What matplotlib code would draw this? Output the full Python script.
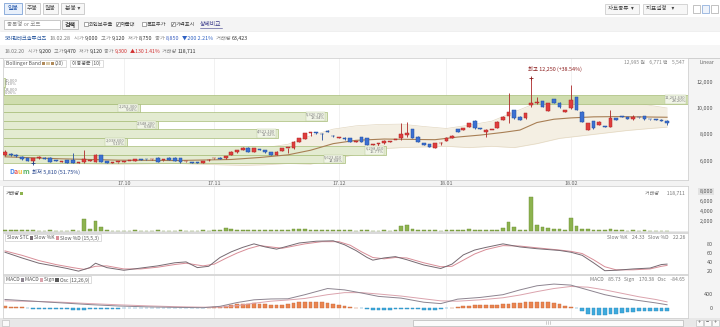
import numpy as np
import matplotlib
matplotlib.use("Agg")
import matplotlib.pyplot as plt
from matplotlib.patches import Rectangle
from matplotlib.ticker import FuncFormatter
from matplotlib.transforms import blended_transform_factory

plt.rcParams['font.family'] = ['Noto Sans CJK KR', 'DejaVu Sans']

W, H = 720, 327

# ---- daily candles 17.09.01 ~ 18.02.28 ----
opens = [6440, 6490, 6460, 6310, 6210, 6010, 6230, 6210, 6240, 6060,
         5920, 6060, 6060, 5850, 5930, 6000, 5930, 6440, 5950, 5860,
         5900, 5930, 5980, 5970, 6070, 6140, 6100, 6240, 6050, 6240,
         6230, 6180, 5950, 5900, 5910, 5830, 6030, 6180, 6240, 6190,
         6440, 6640, 6820, 6990, 6690, 6830, 6820, 6640, 6440, 6750,
         6950, 6950, 7450, 7650, 8100, 8120, 8050, 8230, 7900, 7720,
         7750, 7700, 7450, 7780, 7700, 7230, 7300, 7330, 7440, 7570,
         7700, 7950, 8390, 7830, 7330, 7250, 7000, 7320, 7500, 7750,
         8400, 8330, 8580, 9040, 8480, 8180, 8330, 8500, 9090, 9400,
         9850, 9340, 9220, 10230, 10380, 10530, 9800, 10660, 10400, 9720,
         9980, 10810, 9720, 8330, 9020, 8710, 8600, 8580, 9220, 9340,
         9300, 9200, 9300, 9400, 9150, 9150, 9120, 9000]
highs = [6820, 6560, 6500, 6340, 6240, 6250, 6330, 6260, 6270, 6090,
         6000, 6090, 6590, 5900, 6820, 6060, 6500, 6470, 5990, 5900,
         5930, 5960, 6010, 6150, 6100, 6170, 6130, 6260, 6090, 6270,
         6260, 6200, 5990, 5930, 5940, 5990, 6100, 6230, 6280, 6400,
         6720, 6850, 7020, 7050, 6980, 6880, 6850, 6670, 6720, 6980,
         6990, 7480, 7730, 8110, 8200, 8180, 8090, 8300, 7950, 7800,
         7790, 7730, 7500, 7810, 7730, 7290, 7360, 7550, 7480, 7600,
         8840, 8960, 8420, 7860, 7360, 7280, 7360, 7450, 7780, 7930,
         8430, 8510, 8880, 9070, 8520, 8400, 8370, 8990, 9370, 11140,
         9880, 9370, 9630, 12250, 10860, 10560, 10380, 10690, 10430, 9880,
         11740, 10840, 9750, 8870, 9050, 8990, 8630, 9850, 9250, 9370,
         9330, 9470, 9330, 9430, 9180, 9180, 9150, 9120]
lows = [6360, 6380, 6320, 6080, 5970, 5810, 6170, 6100, 5910, 5950,
        5890, 5840, 5840, 5830, 5830, 5970, 5900, 5900, 5820, 5840,
        5870, 5900, 5950, 5950, 6030, 6090, 6070, 5920, 6020, 6040,
        5990, 5870, 5920, 5820, 5820, 5820, 6000, 6150, 6100, 6160,
        6420, 6610, 6800, 6660, 6660, 6790, 6610, 6410, 6420, 6720,
        6600, 6930, 7420, 7630, 7900, 8050, 7580, 8170, 7820, 7690,
        7600, 7420, 7410, 7420, 7170, 7190, 7100, 7300, 7410, 7540,
        7580, 7830, 7720, 7420, 7170, 7040, 6980, 7200, 7480, 7720,
        8150, 8300, 8550, 8430, 8410, 7800, 8300, 8480, 9060, 8860,
        9190, 9060, 9190, 10100, 10300, 10070, 9770, 10370, 10020, 9690,
        9950, 9820, 8930, 8300, 8430, 8680, 8550, 8550, 9060, 9300,
        9140, 9120, 9260, 9120, 9110, 9100, 9020, 8750]
closes = [6640, 6420, 6360, 6110, 6010, 6210, 6240, 6140, 5940, 5980,
          5950, 5860, 5860, 5860, 6140, 6010, 6440, 5930, 5840, 5870,
          5910, 5940, 5990, 6120, 6060, 6110, 6100, 5940, 6060, 6060,
          6010, 5890, 5950, 5830, 5830, 5960, 6070, 6190, 6120, 6360,
          6690, 6820, 6990, 6690, 6950, 6820, 6640, 6440, 6690, 6950,
          6960, 7450, 7700, 8080, 8150, 8100, 8000, 8200, 7850, 7770,
          7630, 7450, 7450, 7450, 7200, 7270, 7330, 7520, 7450, 7580,
          8000, 8080, 7750, 7450, 7200, 7070, 7330, 7330, 7750, 7900,
          8180, 8480, 8850, 8460, 8440, 8330, 8340, 8960, 9340, 9720,
          9220, 9090, 9600, 10400, 10400, 10100, 10350, 10400, 10050, 9850,
          10600, 9850, 8960, 8840, 8460, 8960, 8580, 9220, 9090, 9330,
          9170, 9300, 9290, 9150, 9140, 9120, 9050, 8850]
# volume, thousand shares
volumes = [300, 150, 120, 150, 150, 200, 100, 100, 150, 80,
           60, 100, 250, 80, 2400, 400, 2000, 800, 200, 100,
           80, 60, 60, 120, 80, 80, 60, 120, 60, 100,
           100, 120, 60, 80, 100, 120, 100, 150, 200, 600,
           400, 300, 250, 250, 250, 150, 150, 150, 150, 200,
           200, 450, 400, 500, 300, 250, 250, 200, 200, 150,
           150, 150, 100, 150, 150, 100, 100, 150, 100, 150,
           1000, 1200, 350, 200, 150, 150, 150, 100, 150, 150,
           200, 150, 350, 300, 200, 300, 150, 250, 600, 1800,
           800, 200, 250, 6800, 1300, 800, 700, 400, 350, 300,
           2700, 1000, 400, 400, 300, 200, 150, 450, 200, 150,
           100, 119, 100, 150, 80, 80, 70, 63]

months = ["17.10", "17.11", "17.12", "18.01", "18.02"]
month_idx = [21, 37, 59, 78, 100]

# ---- volume profile (매물대) ----
vp_edges = [5810, 6454, 7098, 7742, 8386, 9030, 9674, 10318, 10962, 11606, 12250]
vp_volume = [5623410, 6298410, 2038600, 4521100, 2548200, 5326700, 2252300,
             11261630, 24000, 40000]

# ---- Bollinger band (20) and moving average ----
bb_idx = [0, 10, 20, 30, 38, 42, 46, 50, 54, 58, 62, 66, 70, 74, 78, 82, 86,
          90, 94, 98, 102, 106, 110, 114, 117]
bb_upper = [6750, 6550, 6400, 6250, 6450, 6700, 7000, 7250, 7900, 8400, 8650,
            8750, 8780, 8600, 8450, 8700, 9000, 9700, 10400, 10700, 10800,
            10750, 10500, 10200, 10000]
bb_lower = [5900, 5800, 5750, 5800, 5700, 5650, 5700, 5800, 5750, 6100, 6500,
            6900, 7000, 7050, 7100, 7000, 7100, 7000, 7300, 7700, 7900, 8100,
            8300, 8450, 8550]
ma_idx = [0, 10, 20, 30, 40, 45, 50, 54, 58, 62, 67, 72, 76, 80, 84, 88, 91,
          94, 97, 100, 104, 108, 112, 117]
ma_val = [6300, 6150, 6050, 6020, 6100, 6250, 6450, 6800, 7300, 7550, 7650,
          7620, 7600, 7800, 7950, 8150, 8330, 8900, 9150, 9250, 9330, 9350,
          9330, 9300]

# ---- slow stochastic (15,5,3) ----
k_idx = [0, 3, 6, 9, 11, 13, 15, 16, 18, 21, 24, 27, 30, 32, 34, 36, 38, 40,
         42, 44, 46, 48, 50, 52, 55, 58, 60, 62, 64, 65, 67, 69, 71, 74, 77,
         79, 81, 83, 85, 88, 91, 94, 98, 100, 102, 104, 106, 108, 111, 114,
         116, 117]
k_val = [62, 49, 37, 30, 25, 19, 27, 37, 27, 21, 26, 31, 38, 40, 27, 30, 50,
         63, 73, 81, 74, 69, 76, 83, 87, 88, 79, 66, 50, 44, 49, 52, 45, 33,
         25, 35, 56, 67, 73, 81, 74, 70, 66, 62, 55, 38, 20, 21, 24, 26, 34, 35]
d_idx = [0, 3, 6, 9, 12, 14, 16, 18, 21, 24, 27, 30, 32, 35, 37, 39, 41, 43,
         45, 47, 49, 51, 53, 56, 59, 61, 63, 65, 67, 69, 71, 74, 77, 79, 81,
         83, 85, 88, 91, 94, 98, 100, 102, 104, 106, 108, 111, 114, 116, 117]
d_val = [65, 55, 43, 34, 27, 23, 30, 31, 24, 24, 28, 34, 37, 31, 35, 48, 60,
         70, 77, 74, 71, 76, 81, 86, 86, 78, 63, 50, 47, 50, 49, 38, 29, 30,
         44, 58, 68, 77, 76, 72, 67, 64, 59, 45, 29, 22, 22, 24, 30, 32]

# ---- MACD (12,26,9) ----
m_idx = [0, 5, 10, 15, 20, 25, 30, 35, 38, 41, 44, 47, 50, 53, 57, 60, 63, 66,
         70, 74, 77, 80, 84, 88, 91, 94, 97, 100, 103, 106, 109, 112, 115, 117]
macd_val = [240, 190, 140, 90, 50, 25, 10, 0, 40, 150, 230, 255, 260, 380, 560,
            520, 430, 330, 280, 160, 120, 250, 300, 380, 520, 640, 690, 660,
            520, 380, 280, 210, 140, 86]
sign_val = [200, 185, 160, 120, 85, 55, 30, 15, 15, 60, 130, 190, 225, 270, 380,
            440, 440, 400, 340, 260, 200, 190, 230, 290, 370, 470, 560, 620,
            600, 520, 420, 320, 240, 170]
osc = [40, 30, 20, 10, -20, -30, -30, -35, -40, -40,
       -45, -50, -55, -60, -55, -50, -40, -40, -35, -30,
       -25, -20, -15, -12, -10, -10, -10, -8, -5, -5,
       -5, -5, -8, -10, -10, -5, 5, 15, 30, 50,
       80, 100, 110, 120, 130, 120, 100, 90, 80, 90,
       110, 140, 160, 170, 175, 170, 160, 150, 120, 80,
       50, 20, 0, -20, -40, -55, -60, -60, -55, -50,
       -45, -35, -40, -50, -60, -60, -55, -40, -20, 5,
       20, 40, 60, 70, 70, 65, 70, 80, 100, 120,
       140, 150, 160, 170, 175, 170, 160, 140, 100, 40,
       20, -20, -100, -170, -210, -220, -210, -190, -170, -150,
       -130, -115, -105, -100, -95, -90, -88, -85]

fig = plt.figure(figsize=(W / 100, H / 100), dpi=100)
fig.patch.set_facecolor('white')
renderer = fig.canvas.get_renderer()


def px_axes(x0, y0, x1, y1, z=1):
    return fig.add_axes([x0 / W, 1 - y1 / H, (x1 - x0) / W, (y1 - y0) / H], zorder=z)


def overlay(z):
    a = fig.add_axes([0, 0, 1, 1], zorder=z)
    a.set_xlim(0, W)
    a.set_ylim(H, 0)
    a.axis('off')
    a.patch.set_alpha(0)
    return a


ui = overlay(0)
fg = overlay(20)


def seq_text(ax, x, y, pieces, size=4.2, box=None):
    x0 = x
    for p in pieces:
        if p[0] == 'gap':
            x += p[1]
        elif p[0] == 'sw':
            ax.add_patch(Rectangle((x, y - 1.8), 3.2, 3.6, fc=p[1], ec='none', zorder=3))
            x += 4.2
        else:
            t = ax.text(x, y, p[1], fontsize=size, color=p[2], ha='left', va='center', zorder=3)
            x += t.get_window_extent(renderer=renderer).width
    if box is not None:
        ax.add_patch(Rectangle((x0 - 2, y - box), x - x0 + 4, 2 * box, fc='white',
                               ec='#cfcfcf', lw=0.5, zorder=2))
    return x


# ---------------- toolbar ----------------
ui.add_patch(Rectangle((0, 17), W, 14, fc='#f4f4f4', ec='none'))
ui.add_patch(Rectangle((0, 45), W, 12.5, fc='#f6f6f6', ec='none'))
ui.plot([0, W], [57.5, 57.5], color='#c9c9c9', lw=0.6)
ui.plot([0, W], [31, 31], color='#e4e4e4', lw=0.4)

tab_names = ["일봉", "주봉", "월봉", "분봉 ▾"]
tab_x = [(4, 22), (25, 40), (43, 58), (61, 84)]
for k, (name, (a, b)) in enumerate(zip(tab_names, tab_x)):
    sel = k == 0
    ui.add_patch(Rectangle((a, 3), b - a, 11, fc='#e8f0fb' if sel else '#f7f7f7',
                           ec='#7ea3d6' if sel else '#c6c6c6', lw=0.6))
    ui.text((a + b) / 2, 8.7, name, fontsize=4.3, ha='center', va='center',
            color='#2a5cae' if sel else '#555')

for (a, b), name in [((605, 639), "차트종류  ▾"), ((643, 687), "지표설정    ▾")]:
    ui.add_patch(Rectangle((a, 4), b - a, 10, fc='#f7f7f7', ec='#c6c6c6', lw=0.5))
    ui.text(a + 3, 9, name, fontsize=4.0, ha='left', va='center', color='#444')
for k, a in enumerate([693, 702, 711]):
    ui.add_patch(Rectangle((a, 5), 7, 8, fc='#eef3fb' if k == 1 else 'white',
                           ec='#7ea3d6' if k == 1 else '#aaa', lw=0.5))

ui.add_patch(Rectangle((4, 19.5), 56, 9.5, fc='white', ec='#b5b5b5', lw=0.5))
ui.text(7, 24.3, "종목명 or 코드", fontsize=4.0, va='center', color='#888')
ui.add_patch(Rectangle((62, 19.5), 16, 9.5, fc='#f2f2f2', ec='#a8a8a8', lw=0.5))
ui.text(70, 24.3, "검색", fontsize=4.3, ha='center', va='center', color='#333',
        fontweight='bold')
checks = [("외인보유율", False, 84), ("매물대", True, 116), ("목표주가", False, 142),
          ("가격표시", True, 171)]
for name, on, cx in checks:
    ui.add_patch(Rectangle((cx, 22.3), 3.6, 3.6, fc='white', ec='#777', lw=0.45))
    if on:
        ui.text(cx + 1.8, 24.2, "✓", fontsize=4.0, ha='center', va='center',
                color='#333', family='DejaVu Sans')
    ui.text(cx + 4.8, 24.3, name, fontsize=3.8, va='center', color='#444')
ui.text(200, 24.3, "상세비교", fontsize=4.2, va='center', color='#3a3a8a')
ui.plot([200, 222], [27.6, 27.6], color='#3a3a8a', lw=0.4)

seq_text(ui, 5, 38.3, [('t', "SBI핀테크솔루션즈", '#2c5aa0'), ('gap', 2.5),
                       ('t', "18.02.28", '#777'), ('gap', 3),
                       ('t', "시가 ", '#888'), ('t', "9,000", '#333'), ('gap', 2.5),
                       ('t', "고가 ", '#888'), ('t', "9,120", '#333'), ('gap', 2.5),
                       ('t', "저가 ", '#888'), ('t', "8,750", '#333'), ('gap', 2.5),
                       ('t', "종가 ", '#888'), ('t', "8,850", '#3b5fc0'), ('gap', 2.5),
                       ('t', "▼200 2.21%", '#2f62c4'), ('gap', 3),
                       ('t', "거래량 ", '#888'), ('t', "63,423", '#333')], size=3.85)
seq_text(ui, 5, 51.2, [('t', "18.02.20", '#777'), ('gap', 3),
                       ('t', "시가 ", '#888'), ('t', "9,200", '#333'), ('gap', 2),
                       ('t', "고가 ", '#888'), ('t', "9,470", '#333'), ('gap', 2),
                       ('t', "저가 ", '#888'), ('t', "9,120", '#333'), ('gap', 2),
                       ('t', "종가 ", '#888'), ('t', "9,300", '#d23030'), ('gap', 2),
                       ('t', "▲130 1.41%", '#d23030'), ('gap', 3),
                       ('t', "거래량 ", '#888'), ('t', "118,711", '#333')], size=3.7)

# right axis strip, date row, scroll bar
ui.add_patch(Rectangle((688, 58), 32, 260, fc='#f4f4f4', ec='none'))
ui.add_patch(Rectangle((0, 180), 688, 6, fc='#f3f3f3', ec='none'))
ui.add_patch(Rectangle((0, 318), W, 9, fc='#e8e8e8', ec='none'))
ui.add_patch(Rectangle((413, 319.5), 270, 6, fc='#fbfbfb', ec='#b8b8b8', lw=0.5))
for gx in (546, 548, 550):
    ui.plot([gx, gx], [321, 324], color='#aaa', lw=0.4)
ui.add_patch(Rectangle((2, 319.5), 7, 6, fc='#fafafa', ec='#b8b8b8', lw=0.4))
for k, s in enumerate(["+", "−", "+"]):
    ui.add_patch(Rectangle((696 + 8 * k, 319.5), 7, 6, fc='#fafafa', ec='#b8b8b8', lw=0.4))
    ui.text(699.5 + 8 * k, 322.5, s, fontsize=4, ha='center', va='center', color='#555')

# ---------------- panels ----------------
idx = np.arange(len(closes))
XL = (-0.35, 120.7)


def style_panel(ax, ylim, ticks, fmt="{:,.0f}"):
    ax.set_xlim(*XL)
    ax.set_ylim(*ylim)
    for s in ax.spines.values():
        s.set_color('#d2d2d2')
        s.set_linewidth(0.6)
    ax.set_xticks([])
    ax.yaxis.tick_right()
    ax.set_yticks(ticks)
    ax.yaxis.set_major_formatter(FuncFormatter(lambda v, p: fmt.format(v)))
    ax.tick_params(axis='y', length=0, labelsize=3.9, labelcolor='#555', pad=18)
    for t in ax.get_yticklabels():
        t.set_horizontalalignment('right')
    for m in month_idx:
        ax.axvline(m, color='#ececec', lw=0.5, zorder=0)


# main price panel
ax = px_axes(3, 58, 688, 180)
style_panel(ax, (4545, 13790), [6000, 8000, 10000, 12000])

vp_edges_a = np.array(vp_edges)
vp_vol = np.array(vp_volume)
vp_w = vp_vol / vp_vol.max() * (XL[1] - XL[0])
vp_pct = vp_vol / vp_vol.sum() * 100
vp_mid = (vp_edges_a[:-1] + vp_edges_a[1:]) / 2
vp_h = np.diff(vp_edges_a)
vp_fc = ['#cfddae' if v == vp_vol.max() else '#e3ebd1' for v in vp_vol]
ax.barh(vp_mid, vp_w, height=vp_h * 0.96, left=XL[0], color=vp_fc,
        edgecolor='#a7bd78', lw=0.5, zorder=2)
for yc, w, v, pc in zip(vp_mid, vp_w, vp_vol, vp_pct):
    lab = f"{v:,}\n{pc:.2f}%"
    if w > 8:
        ax.text(XL[0] + w - 0.4, yc, lab, fontsize=3.0, ha='right', va='center',
                color='#7c7c7c', linespacing=0.95, zorder=6,
                bbox=dict(boxstyle='square,pad=0.12', fc='#f1f5e7', ec='#b7c796', lw=0.3))
    else:
        ax.text(XL[0] + 0.3, yc, lab, fontsize=3.0, ha='left', va='center',
                color='#8a8a8a', linespacing=0.95, zorder=6)

ax.fill_between(bb_idx, bb_lower, bb_upper, color='#f4efe3', lw=0, zorder=1)
ax.plot(bb_idx, bb_upper, color='#e3d8c2', lw=0.5, zorder=1)
ax.plot(bb_idx, bb_lower, color='#e3d8c2', lw=0.5, zorder=1)
ax.plot(ma_idx, ma_val, color='#a87f55', lw=0.8, zorder=3)

o = np.array(opens)
c = np.array(closes)
up = c >= o
body_c = np.where(up, '#e03d3d', '#3c70d2')
edge_c = np.where(up, '#ad2626', '#234f9f')
ax.vlines(idx, lows, highs, colors=edge_c, lw=0.6, zorder=4)
ax.bar(idx, np.maximum(np.abs(c - o), 60), bottom=np.minimum(o, c), width=0.66,
       color=body_c, edgecolor=edge_c, lw=0.35, zorder=5)

hi_i = int(np.argmax(highs))
lo_i = int(np.argmin(lows))
ax.plot([hi_i], [highs[hi_i]], marker='+', ms=2.6, mew=0.6, color='#8b1a1a',
        zorder=7, transform=ax.transData)
ax.annotate(f"최고 {highs[hi_i]:,} (+38.54%)", xy=(hi_i, highs[hi_i]), xytext=(-2.3, 6.5),
            textcoords='offset points', ha='left', va='center', fontsize=3.9,
            color='#8b1a1a', zorder=7)
ax.plot([lo_i], [lows[lo_i]], marker='+', ms=2.6, mew=0.6, color='#1e3f8a', zorder=7)
ax.annotate(f"최저 {lows[lo_i]:,} (51.75%)", xy=(lo_i, lows[lo_i]), xytext=(-1.2, -6.2),
            textcoords='offset points', ha='left', va='center', fontsize=3.9,
            color='#1e3f8a', zorder=7)

trans = blended_transform_factory(ax.transData, ax.transAxes)
for m, lab in zip(month_idx, months):
    ax.text(m, -0.026, lab, transform=trans, ha='center', va='center', fontsize=3.9,
            color='#666', clip_on=False)

# volume panel
axv = px_axes(3, 186, 688, 232)
style_panel(axv, (-200, 9000), [2000, 4000, 6000, 8000])
vols = np.array(volumes)
axv.bar(idx, vols, width=0.66, color='#8db34f', edgecolor='#6a8c33', lw=0.3, zorder=3)
axv.axhline(0, color='#d8d8d8', lw=0.4, zorder=1)
for t in axv.get_yticklabels():
    if t.get_text() == "8,000":
        t.set_bbox(dict(boxstyle='square,pad=0.25', fc='#e2e2e2', ec='none'))

# slow stochastic
axs = px_axes(3, 233, 688, 274)
style_panel(axs, (12.5, 105.7), [20, 40, 60, 80])
axs.plot(d_idx, d_val, color='#d88d97', lw=0.7, zorder=3)
axs.plot(k_idx, k_val, color='#766a72', lw=0.7, zorder=4)

# MACD
axm = px_axes(3, 275, 688, 318)
style_panel(axm, (-301, 955), [0, 400])
osc_a = np.array(osc)
axm.bar(idx, osc_a, width=0.66, color=np.where(osc_a >= 0, '#ea8550', '#3eaadd'),
        edgecolor=np.where(osc_a >= 0, '#c8683a', '#2a8bbd'), lw=0.3, zorder=2)
axm.plot(m_idx, sign_val, color='#dba3ad', lw=0.7, zorder=3)
axm.plot(m_idx, macd_val, color='#8d8490', lw=0.7, zorder=4)

# ---------------- legends / overlay texts ----------------
seq_text(fg, 6, 63.5, [('t', "Bollinger Band ", '#555'), ('sw', '#b08a5a'),
                       ('sw', '#d8c8a8'), ('sw', '#b08a5a'), ('t', "(20)", '#555')],
         size=3.6, box=3.8)
seq_text(fg, 72, 63.5, [('t', "이동평균 (10)", '#555')], size=3.6, box=3.8)
fg.text(685, 62.5, "12,995 원    6,771 백    5,547", fontsize=3.6, ha='right',
        va='center', color='#888')
fg.text(707, 62, "Linear", fontsize=3.6, ha='center', va='center', color='#666')

seq_text(fg, 6, 193.5, [('t', "거래량", '#555'), ('sw', '#8db34f')], size=3.6)
fg.text(685, 193.5, "거래량       118,711", fontsize=3.6, ha='right', va='center',
        color='#777')

seq_text(fg, 7, 237.8, [('t', "Slow STC ", '#555'), ('sw', '#766a72'),
                        ('t', "Slow %K ", '#555'), ('sw', '#d88d97'),
                        ('t', "Slow %D (15,5,3)", '#555')], size=3.6, box=3.6)
fg.text(685, 237.8, "Slow %K    24.33   Slow %D    22.26", fontsize=3.6,
        ha='right', va='center', color='#777')

seq_text(fg, 6, 279.8, [('t', "MACD ", '#555'), ('sw', '#8d8490'), ('t', "MACD ", '#555'),
                        ('sw', '#dba3ad'), ('t', "Sign ", '#555'), ('sw', '#5a5a5a'),
                        ('t', "Osc (12,26,9)", '#555')], size=3.6, box=3.6)
fg.text(685, 279.8, "MACD    85.73   Sign    170.38   Osc    -84.65", fontsize=3.6,
        ha='right', va='center', color='#777')

# Daum watermark
dx = 9
for ch, col in zip("Daum", ['#2f74e8', '#e8413b', '#f2b21b', '#3aa548']):
    t = fg.text(dx, 172, ch, fontsize=5.0, color=col, ha='left', va='center',
                fontweight='bold', alpha=0.85)
    dx += t.get_window_extent(renderer=renderer).width

fig.savefig("out.png", dpi=100)
